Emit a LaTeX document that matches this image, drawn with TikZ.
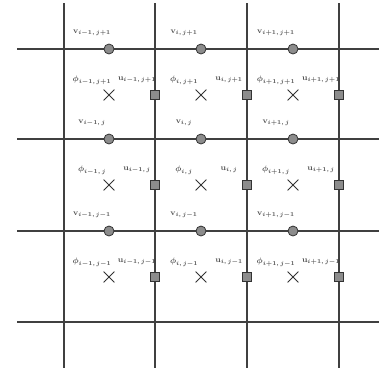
\documentclass[tikz,border=0pt]{standalone}
\usepackage{amsmath,amssymb}
\usetikzlibrary{shapes.misc}
\begin{document}
\begin{tikzpicture}[x=1pt,y=-1pt,
  gridline/.style={draw=black!75,line width=1.1pt},
  vnode/.style={circle,draw=black!80,fill=black!45,line width=0.8pt,minimum size=10pt,inner sep=0pt},
  unode/.style={rectangle,draw=black!80,fill=black!45,line width=0.8pt,minimum size=9.5pt,inner sep=0pt},
  pnode/.style={cross out,draw=black!80,line width=0.8pt,minimum size=10pt,inner sep=0pt},
  lab/.style={text=black!70,font=\fontsize{8.5}{9}\selectfont\boldmath,inner sep=0pt}]
\useasboundingbox (0,0) rectangle (379,373);
% grid
\foreach \x/\n in {64/a,155/b,247/c,339/d}{
  \coordinate (top\n) at (\x,3);
  \coordinate (bot\n) at (\x,368);
  \draw[gridline] (top\n) -- (bot\n);
}
\foreach \y/\n in {49/a,139/b,231/c,322/d}{
  \coordinate (left\n) at (17,\y);
  \coordinate (right\n) at (379,\y);
  \draw[gridline] (left\n) -- (right\n);
}
% v nodes (circles) and phi markers
\foreach \cx/\ii/\ia in {109/{i-1}/1,201/{i}/2,293/{i+1}/3}{
  \foreach \ly/\jj/\jn in {49/{j+1}/1,139/{j}/2,231/{j-1}/3}{
    \node[vnode] (v\ia\jn) at (\cx,\ly) {};
    \node[lab] (vl\ia\jn) at (\cx-17,\ly-16) {$\mathbf{v}_{\ii,\,\jj}$};
  }
  \foreach \cy/\jj/\jn in {95/{j+1}/1,185/{j}/2,277/{j-1}/3}{
    \node[pnode] (p\ia\jn) at (\cx,\cy) {};
    \node[lab] (pl\ia\jn) at (\cx-17,\cy-15) {$\boldsymbol{\phi}_{\ii,\,\jj}$};
  }
}
% u nodes (squares) on vertical lines
\foreach \vx/\ii/\ia in {155/{i-1}/1,247/{i}/2,339/{i+1}/3}{
  \foreach \cy/\jj/\jn in {95/{j+1}/1,185/{j}/2,277/{j-1}/3}{
    \node[unode] (u\ia\jn) at (\vx,\cy) {};
    \node[lab] (ul\ia\jn) at (\vx-18,\cy-15) {$\mathbf{u}_{\ii,\,\jj}$};
  }
}
\end{tikzpicture}
\end{document}
